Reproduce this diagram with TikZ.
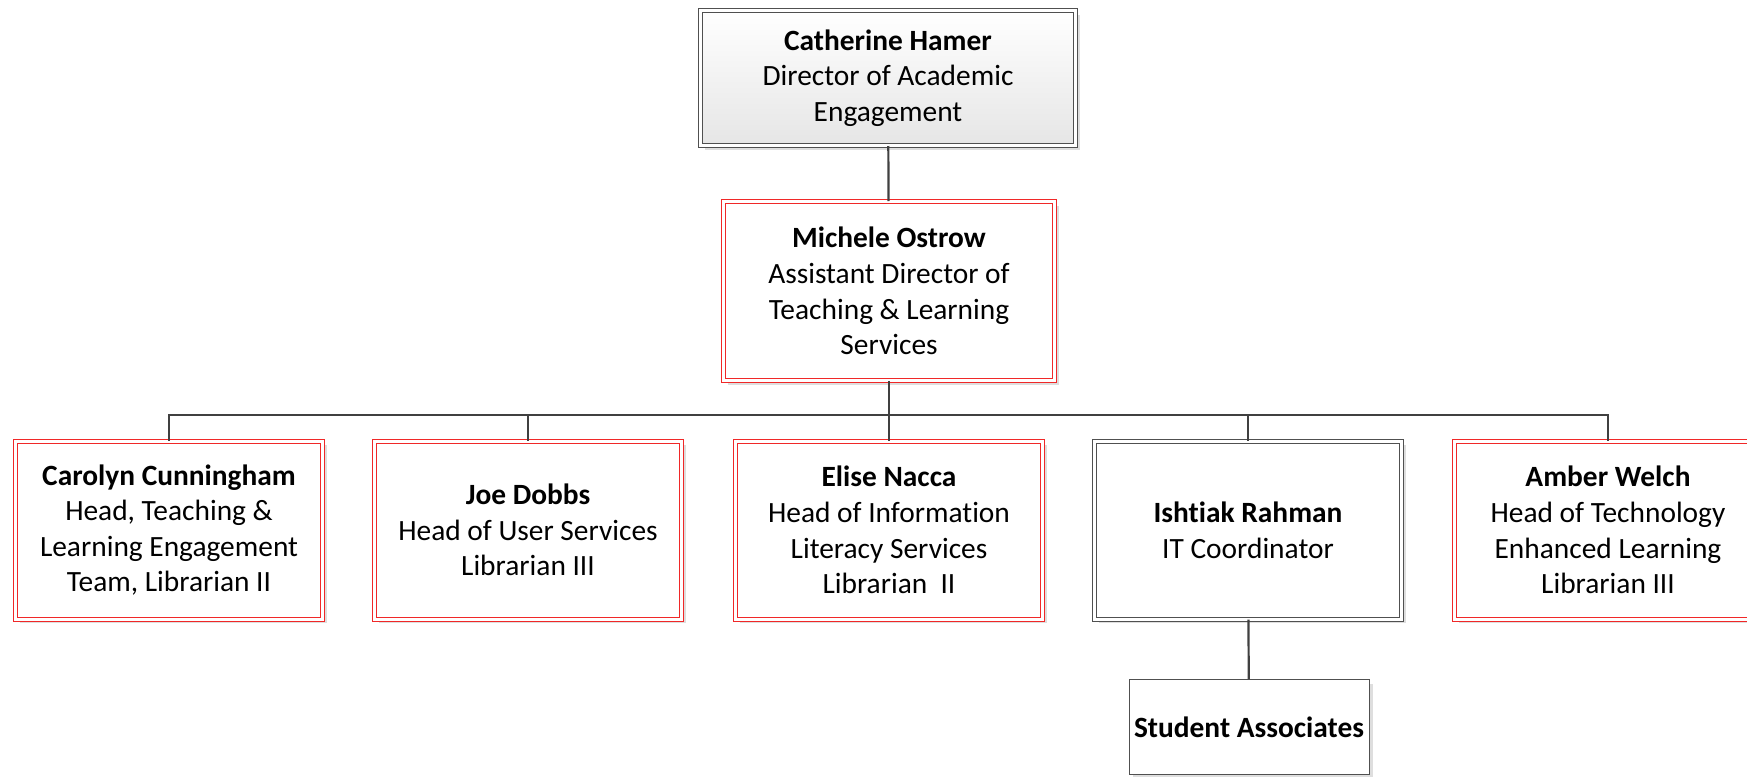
\documentclass[tikz,border=0pt]{standalone}
\usepackage{fontspec}
\setmainfont[Ligatures=CommonOff]{Carlito}
\usetikzlibrary{shadows}
\definecolor{linkgray}{HTML}{404040}
\definecolor{boxred}{HTML}{F02828}
\definecolor{boxgray}{HTML}{505050}
\begin{document}
\begin{tikzpicture}
        [x=0.5pt,y=-0.5pt,
        boxdecorate/.style={shape=rectangle,line width=0.5pt,fill=white,align=center,inner sep=0pt,%
          font=\fontsize{14.7}{17.8}\selectfont,%
          drop shadow={shadow xshift=2pt,shadow yshift=-2pt,fill=black!13,opacity=1}},
        redbox/.style={boxdecorate,draw=boxred,double=white,double distance=1.5pt,%
          minimum width=153.5pt,minimum height=89pt},
        graybox/.style={boxdecorate,draw=boxgray,double=white,double distance=1.5pt,%
          minimum width=153.5pt,minimum height=89pt},
        linkdecorate/.style={-,draw=linkgray,line width=1.1pt}]
        \useasboundingbox (0,0) rectangle (1747,777);
        %% nodes or boxes
        \node (hamer) at (888,78) [boxdecorate,draw=boxgray,double=white,double distance=1.5pt,%
          minimum width=187.5pt,minimum height=67.5pt,top color=white,bottom color=black!10]
          {\textbf{Catherine Hamer}\\Director of Academic\\Engagement};
        \node (ostrow) at (889,291) [redbox,minimum width=165.5pt,minimum height=89.5pt]
          {\textbf{Michele Ostrow}\\Assistant Director of\\Teaching \& Learning\\Services};
        \coordinate (bus) at (889,415);

        \foreach \nodename/\x/\boxstyle/\name/\role in {
          cunningham/169/redbox/{Carolyn Cunningham}/{Head, Teaching \&\\Learning Engagement\\Team, Librarian II},
          dobbs/528/redbox/{Joe Dobbs}/{Head of User Services\\Librarian III},
          nacca/889/redbox/{Elise Nacca}/{Head of Information\\Literacy Services\\Librarian\ \ II},
          rahman/1248/graybox/{Ishtiak Rahman}/{IT Coordinator},
          welch/1608/redbox/{Amber Welch}/{Head of Technology\\Enhanced Learning\\Librarian III}}
        {
          \node (\nodename) at (\x,530) [\boxstyle] {\textbf{\name}\\\role};
        }
        \node (students) at (1249,727) [boxdecorate,draw=boxgray,minimum width=120pt,minimum height=47.5pt]
          {\textbf{Student Associates}};
        %% edges or lines
        \draw[linkdecorate] (hamer) -- (ostrow);
        \draw[linkdecorate] (ostrow) -- (bus);
        \foreach \endnode in {cunningham, dobbs, nacca, rahman, welch}
        {
          \draw[linkdecorate] (bus) -| (\endnode.north);
        }
        \draw[linkdecorate] (rahman) -- (students);
      \end{tikzpicture}
\end{document}
